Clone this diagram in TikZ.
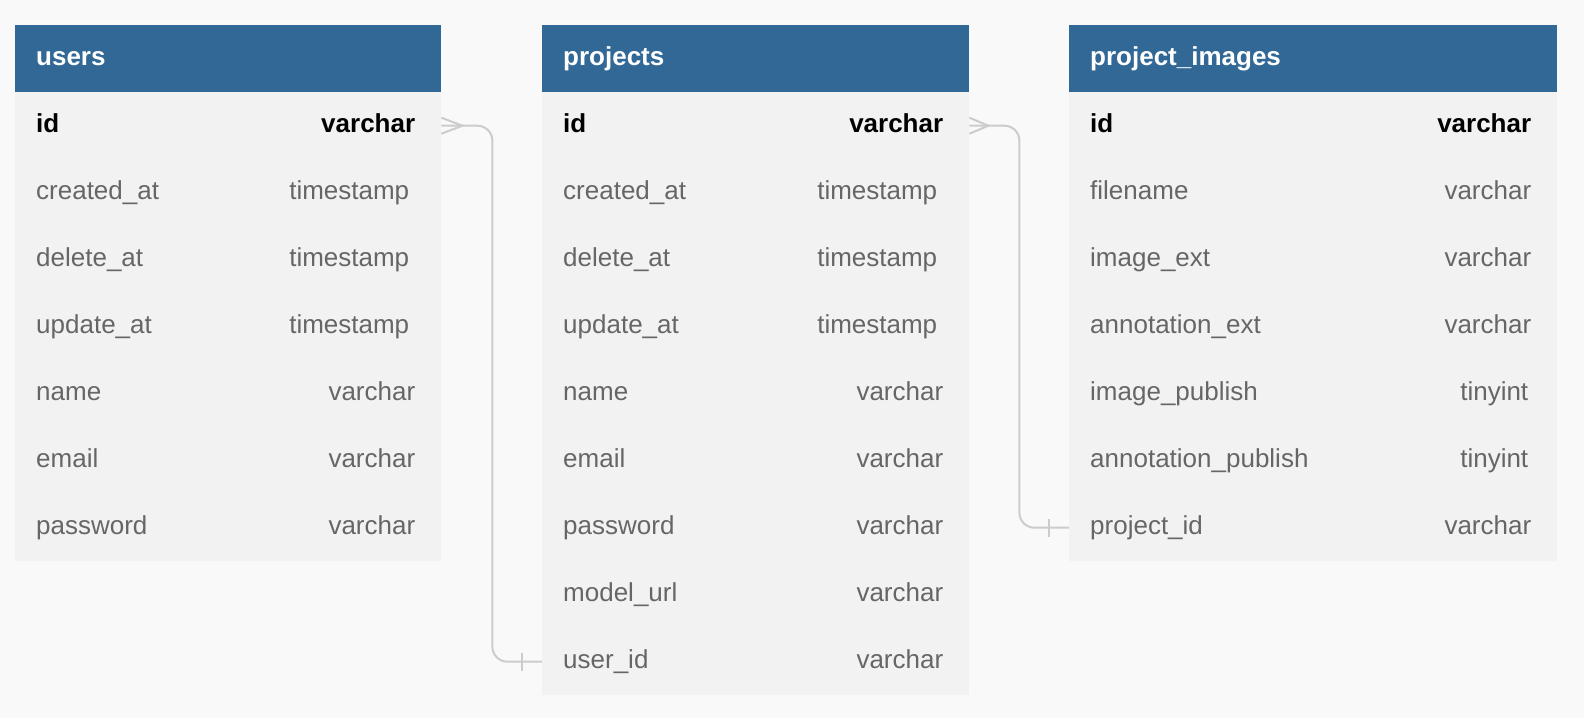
\documentclass[tikz,border=0pt]{standalone}
\usepackage{fontspec}
\setmainfont{Liberation Sans}
\usetikzlibrary{calc}
\definecolor{hdrblue}{HTML}{316896}
\definecolor{rowbg}{HTML}{F2F2F2}
\definecolor{pagebg}{HTML}{F9F9F9}
\definecolor{txtgray}{HTML}{666666}
\definecolor{connc}{HTML}{CCCCCC}
\tikzset{
  hdrbox/.style={fill=hdrblue, draw=none, anchor=north west, minimum height=67pt, inner sep=0pt},
  rowbox/.style={fill=rowbg, draw=none, anchor=north west, minimum height=67pt, inner sep=0pt},
  hdrtxt/.style={anchor=base west, inner sep=0pt, text=white, font=\fontsize{26}{30}\selectfont\bfseries},
  keytxt/.style={inner sep=0pt, text=black, font=\fontsize{26}{30}\selectfont\bfseries},
  fldtxt/.style={inner sep=0pt, text=txtgray, font=\fontsize{26}{30}\selectfont},
  conn/.style={draw=connc, line width=2pt, rounded corners=15pt},
  connmark/.style={draw=connc, line width=2pt},
}
\newcommand{\tblhead}[4]{%
  \node[hdrbox, minimum width=#3] (#1) at (#2,25) {};
  \node[hdrtxt] (#1-title) at ([xshift=21pt,yshift=-6.5pt]#1.west) {#4};}
\newcommand{\tblrow}[7]{%
  \node[rowbox, minimum width=#3] (#1) at (#2,{92+67*#4}) {};
  \node[#7, anchor=base west] (#1-f) at ([xshift=21pt,yshift=-6.5pt]#1.west) {#5};
  \node[#7, anchor=base east] (#1-t) at ([xshift=-26pt,yshift=-6.5pt]#1.east) {#6};}
\newcommand{\tstamp}{timestamp\kern6pt}
\newcommand{\tint}{tinyint\kern3pt}
\begin{document}
\begin{tikzpicture}[x=1pt,y=-1pt]
\fill[pagebg] (0,0) rectangle (1584,718);
\useasboundingbox (0,0) rectangle (1584,718);
% users
\tblhead{users}{15}{426pt}{users}
\tblrow{u0}{15}{426pt}{0}{id}{varchar}{keytxt}
\tblrow{u1}{15}{426pt}{1}{created\_at}{\tstamp}{fldtxt}
\tblrow{u2}{15}{426pt}{2}{delete\_at}{\tstamp}{fldtxt}
\tblrow{u3}{15}{426pt}{3}{update\_at}{\tstamp}{fldtxt}
\tblrow{u4}{15}{426pt}{4}{name}{varchar}{fldtxt}
\tblrow{u5}{15}{426pt}{5}{email}{varchar}{fldtxt}
\tblrow{u6}{15}{426pt}{6}{password}{varchar}{fldtxt}
% projects
\tblhead{projects}{542}{427pt}{projects}
\tblrow{p0}{542}{427pt}{0}{id}{varchar}{keytxt}
\tblrow{p1}{542}{427pt}{1}{created\_at}{\tstamp}{fldtxt}
\tblrow{p2}{542}{427pt}{2}{delete\_at}{\tstamp}{fldtxt}
\tblrow{p3}{542}{427pt}{3}{update\_at}{\tstamp}{fldtxt}
\tblrow{p4}{542}{427pt}{4}{name}{varchar}{fldtxt}
\tblrow{p5}{542}{427pt}{5}{email}{varchar}{fldtxt}
\tblrow{p6}{542}{427pt}{6}{password}{varchar}{fldtxt}
\tblrow{p7}{542}{427pt}{7}{model\_url}{varchar}{fldtxt}
\tblrow{p8}{542}{427pt}{8}{user\_id}{varchar}{fldtxt}
% project_images
\tblhead{images}{1069}{488pt}{project\_images}
\tblrow{i0}{1069}{488pt}{0}{id}{varchar}{keytxt}
\tblrow{i1}{1069}{488pt}{1}{filename}{varchar}{fldtxt}
\tblrow{i2}{1069}{488pt}{2}{image\_ext}{varchar}{fldtxt}
\tblrow{i3}{1069}{488pt}{3}{annotation\_ext}{varchar}{fldtxt}
\tblrow{i4}{1069}{488pt}{4}{image\_publish}{\tint}{fldtxt}
\tblrow{i5}{1069}{488pt}{5}{annotation\_publish}{\tint}{fldtxt}
\tblrow{i6}{1069}{488pt}{6}{project\_id}{varchar}{fldtxt}
% connectors
\draw[conn] (u0.east) -- ($(u0.east)+(51,0)$) |- (p8.west);
\draw[connmark] ($(u0.east)+(0,-8)$) -- ($(u0.east)+(21,0)$) -- ($(u0.east)+(0,8)$);
\draw[connmark] ($(p8.west)+(-20,-9)$) -- ($(p8.west)+(-20,9)$);
\draw[conn] (p0.east) -- ($(p0.east)+(50,0)$) |- (i6.west);
\draw[connmark] ($(p0.east)+(0,-8)$) -- ($(p0.east)+(19,0)$) -- ($(p0.east)+(0,8)$);
\draw[connmark] ($(i6.west)+(-20,-9)$) -- ($(i6.west)+(-20,9)$);
\end{tikzpicture}
\end{document}
